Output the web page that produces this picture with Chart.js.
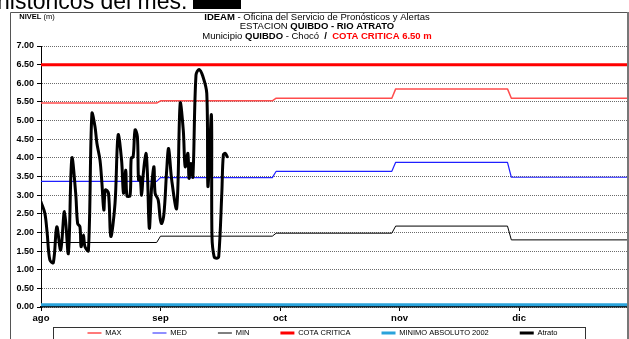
<!DOCTYPE html>
<html>
<head>
<meta charset="utf-8">
<script src="https://cdn.jsdelivr.net/npm/chart.js@4.4.1/dist/chart.umd.min.js"></script>
<style>
html, body { margin: 0; padding: 0; background: #fff; overflow: hidden; }
#wrap { position: relative; width: 629px; height: 339px; }
</style>
</head>
<body>
<div id="wrap"><canvas id="nivelChart" width="629" height="339"></canvas></div>
<script>
// days counted from 1 Aug
const monthLabels = ['ago', 'sep', 'oct', 'nov', 'dic'];
const monthTickDays = [0, 31, 62, 93, 124];
const monthStart = [0, 31, 61, 92, 122];
const monthEnd = [30, 60, 91, 121, 152];

const maxLevels = [5.47, 5.53, 5.60, 5.85, 5.60];
const medLevels = [3.37, 3.47, 3.64, 3.88, 3.48];
const minLevels = [1.73, 1.90, 1.98, 2.17, 1.80];
const cotaCritica = 6.50;
const minimoAbsoluto2002 = 0.06;

const atratoDays = [0, 1, 1.6, 2.3, 3.2, 4.1, 5.1, 6.1, 7.1, 8.0, 9.0, 9.5, 10.1, 10.4, 11.0, 11.4, 12.3,
  13.2, 14.0, 14.5, 15.3, 15.8, 16.3, 16.7, 17.5, 18.1, 19.2, 20.0, 20.9, 21.4, 22.0, 22.3, 23.1, 23.4,
  23.9, 24.4, 25.0, 25.3, 25.7, 26.1, 26.5, 27.2, 27.6, 28.1, 28.7, 29.3, 29.6, 30.4, 30.9, 31.3, 31.9,
  32.6, 33.1, 33.9, 35.2, 36.1, 36.9, 37.4, 38.1, 38.4, 38.9, 39.4, 40.2, 41.0, 42.0, 43.0, 43.3, 44.2,
  44.35, 44.9, 45.6, 46.1, 46.9, 47.3, 47.8, 48.3];
const atratoLevels = [2.82, 2.51, 1.98, 1.26, 1.19, 2.15, 1.53, 2.56, 1.44, 3.99, 3.05, 2.24, 2.15, 1.62, 1.93, 1.62, 1.51,
  5.19, 4.84, 4.39, 3.94, 3.32, 2.60, 3.14, 3.05, 1.89, 2.78, 4.61, 3.94, 3.05, 3.67, 2.98, 2.98, 3.99,
  4.03, 4.75, 4.57, 3.41, 3.49, 3.00, 3.54, 4.12, 3.59, 2.11, 3.23, 3.76, 3.05, 2.87, 2.38, 2.24, 2.51,
  3.67, 4.25, 3.41, 2.65, 5.46, 4.75, 3.76, 4.12, 3.45, 3.85, 3.49, 6.22, 6.37, 6.18, 5.73, 3.23, 5.15,
  1.89, 1.35, 1.31, 1.35, 3.05, 4.08, 4.12, 4.03];

const FONT = "'Liberation Sans', Arial, sans-serif";

function monthSteps(levels) {
    const pts = [];
    levels.forEach((v, i) => {
        pts.push({ x: monthStart[i], y: v }, { x: monthEnd[i], y: v });
    });
    return pts;
}

function flat(v) {
    return [{ x: monthStart[0], y: v }, { x: monthEnd[monthEnd.length - 1], y: v }];
}

const atratoPoints = atratoDays.map((d, i) => ({ x: d, y: atratoLevels[i] }));

function drawRuns(ctx, runs, cx, y) {
    let total = 0;
    runs.forEach(r => { ctx.font = r.font; total += ctx.measureText(r.text).width; });
    let x = cx - total / 2;
    runs.forEach(r => {
        ctx.font = r.font;
        ctx.fillStyle = r.color || '#000';
        ctx.fillText(r.text, x, y);
        x += ctx.measureText(r.text).width;
    });
}

const n9 = '9.5px ' + FONT, b9 = 'bold 9.5px ' + FONT;

const decor = {
    id: 'decor',
    afterLayout(chart) {
        // excel-like legend sits right under the axis labels
        const lg = chart.legend;
        const lab = lg.options.labels;
        lg.top = 333 - lab.padding - lab.font.size / 2;
        lg.bottom = chart.height;
        lg.left += 9;
        lg.right += 9;
    },
    beforeDraw(chart) {
        const ctx = chart.ctx;
        ctx.save();
        ctx.textBaseline = 'alphabetic';
        ctx.fillStyle = '#000';
        ctx.font = '23px ' + FONT;
        ctx.fillText('históricos del mes:', -3, 9);
        ctx.fillRect(193, 0, 48, 9);

        ctx.textBaseline = 'middle';
        drawRuns(ctx, [{ text: 'NIVEL', font: 'bold 7.5px ' + FONT }, { text: ' (m)', font: '7.5px ' + FONT }], 37, 17);
        drawRuns(ctx, [{ text: 'IDEAM', font: b9 }, { text: ' - Oficina del Servicio de Pronósticos y Alertas', font: n9 }], 317, 17);
        drawRuns(ctx, [{ text: 'ESTACION ', font: n9 }, { text: 'QUIBDO - RIO ATRATO', font: b9 }], 317, 26);
        drawRuns(ctx, [
            { text: 'Municipio ', font: n9 }, { text: 'QUIBDO', font: b9 }, { text: ' - Chocó  ', font: n9 },
            { text: '/', font: b9 }, { text: '  COTA CRITICA 6.50 m', font: b9, color: '#ff0000' }
        ], 317, 36);
        ctx.restore();
    },
    afterDraw(chart) {
        const ctx = chart.ctx;
        ctx.save();
        ctx.strokeStyle = '#555';
        ctx.lineWidth = 1;
        ctx.beginPath();
        ctx.moveTo(10.5, 345);
        ctx.lineTo(10.5, 12.5);
        ctx.lineTo(628, 12.5);
        ctx.stroke();
        ctx.strokeStyle = '#777';
        ctx.lineWidth = 2;
        ctx.beginPath();
        ctx.moveTo(628, 12);
        ctx.lineTo(628, 345);
        ctx.stroke();
        ctx.strokeStyle = '#333';
        ctx.lineWidth = 1;
        ctx.strokeRect(53.5, 327.5, 532, 20);
        ctx.restore();
    }
};

const ctx = document.getElementById('nivelChart').getContext('2d');
new Chart(ctx, {
    type: 'line',
    data: {
        datasets: [
            { label: 'MAX', data: monthSteps(maxLevels), borderColor: '#ff4d4d', borderWidth: 1.5, order: 5 },
            { label: 'MED', data: monthSteps(medLevels), borderColor: '#2020ff', borderWidth: 1.2, order: 4 },
            { label: 'MIN', data: monthSteps(minLevels), borderColor: '#000000', borderWidth: 1, order: 3 },
            { label: 'COTA CRITICA', data: flat(cotaCritica), borderColor: '#ff0000', borderWidth: 3, order: 2 },
            { label: 'MINIMO ABSOLUTO 2002', data: flat(minimoAbsoluto2002), borderColor: '#2aa3db', borderWidth: 3, order: 1 },
            { label: 'Atrato', data: atratoPoints, borderColor: '#000000', borderWidth: 3, tension: 0.35, order: 0 }
        ]
    },
    options: {
        responsive: false,
        animation: false,
        events: [],
        layout: { padding: { top: 46, right: 2, bottom: 0, left: 0 } },
        elements: { point: { radius: 0 }, line: { fill: false, borderCapStyle: 'round', borderJoinStyle: 'round' } },
        scales: {
            x: {
                type: 'linear',
                min: 0,
                max: 152,
                afterBuildTicks: axis => { axis.ticks = monthTickDays.map(v => ({ value: v })); },
                afterFit: scale => { scale.height = 31; },
                ticks: {
                    autoSkip: false,
                    maxRotation: 0,
                    padding: 2,
                    color: '#000',
                    font: { family: FONT, size: 9.5, weight: 'bold' },
                    callback: (v, i) => monthLabels[i]
                },
                grid: { drawOnChartArea: false, drawTicks: true, tickLength: 4, tickColor: '#000' },
                border: { color: '#000', width: 1.5 }
            },
            y: {
                min: 0,
                max: 7,
                afterFit: scale => { scale.width = 41; },
                ticks: {
                    stepSize: 0.5,
                    padding: 3,
                    color: '#000',
                    font: { family: FONT, size: 9, weight: 'bold' },
                    callback: v => v.toFixed(2)
                },
                grid: { color: '#6a6a6a', tickLength: 4, tickColor: '#000', tickBorderDash: [] },
                border: { color: '#000', width: 1, dash: [1, 1] }
            }
        },
        plugins: {
            tooltip: { enabled: false },
            title: { display: false },
            legend: {
                position: 'bottom',
                maxHeight: 1,
                labels: {
                    usePointStyle: true,
                    pointStyleWidth: 14,
                    padding: 31,
                    color: '#000',
                    font: { family: FONT, size: 7.5 },
                    generateLabels: chart => chart.data.datasets.map((ds, i) => ({
                        text: ds.label,
                        strokeStyle: ds.borderColor,
                        fillStyle: ds.borderColor,
                        lineWidth: ds.borderWidth,
                        pointStyle: 'line',
                        hidden: false,
                        datasetIndex: i
                    }))
                }
            }
        }
    },
    plugins: [decor]
});
</script>
</body>
</html>
